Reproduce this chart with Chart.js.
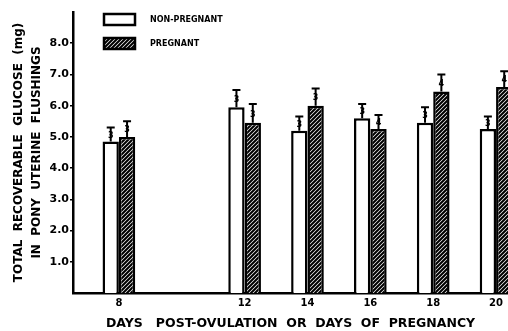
<!DOCTYPE html>
<html>
<head>
<meta charset="utf-8">
<script src="https://cdn.jsdelivr.net/npm/chart.js@4.4.1/dist/chart.umd.min.js"></script>
<style>
    html, body { margin: 0; padding: 0; background: #fff; }
    #wrap { width: 508px; height: 331px; position: relative; }
</style>
</head>
<body>
<div id="wrap"><canvas id="glucoseChart"></canvas></div>
<script>
// Days post-ovulation / days of pregnancy
const days = [8, 12, 14, 16, 18, 20];
const xTickLabels = [8, 12, 14, 16, 18, 20];
const yTickLabels = [1, 2, 3, 4, 5, 6, 7, 8];

// Total recoverable glucose (mg), means and SE
const nonPregnant = [4.85, 5.95, 5.2, 5.6, 5.45, 5.25];
const nonPregnantErr = [0.45, 0.55, 0.45, 0.45, 0.5, 0.4];
const nonPregnantN = [3, 3, 3, 3, 3, 3];

const pregnant = [5.0, 5.45, 6.0, 5.25, 6.45, 6.6];
const pregnantErr = [0.5, 0.6, 0.55, 0.45, 0.55, 0.5];
const pregnantN = [3, 3, 3, 4, 4, 4];

const boldFont = '"DejaVu Sans", sans-serif';

// diagonal hatch fill for the pregnant bars
function makeHatch() {
    const c = document.createElement('canvas');
    c.width = 4;
    c.height = 4;
    const g = c.getContext('2d');
    g.fillStyle = '#fff';
    g.fillRect(0, 0, 4, 4);
    g.strokeStyle = '#000';
    g.lineWidth = 2.1;
    g.beginPath();
    g.moveTo(0, 4); g.lineTo(4, 0);
    g.moveTo(-1, 1); g.lineTo(1, -1);
    g.moveTo(3, 5); g.lineTo(5, 3);
    g.stroke();
    return g.createPattern(c, 'repeat');
}
const hatch = makeHatch();

// error bars with sample size written on the stem
const errorBars = {
    id: 'errorBars',
    afterDatasetsDraw(chart) {
        const ctx = chart.ctx;
        const yScale = chart.scales.y;
        ctx.save();
        chart.data.datasets.forEach((ds, i) => {
            const meta = chart.getDatasetMeta(i);
            meta.data.forEach((bar, j) => {
                const top = yScale.getPixelForValue(ds.data[j].y + ds.errors[j]);
                ctx.strokeStyle = '#000';
                ctx.lineWidth = 2;
                ctx.beginPath();
                ctx.moveTo(bar.x, bar.y);
                ctx.lineTo(bar.x, top);
                ctx.moveTo(bar.x - 4, top);
                ctx.lineTo(bar.x + 4, top);
                ctx.stroke();
                ctx.fillStyle = '#000';
                ctx.font = 'bold 8px ' + boldFont;
                ctx.textAlign = 'center';
                ctx.textBaseline = 'middle';
                ctx.fillText(String(ds.counts[j]), bar.x, (bar.y + top) / 2 + 1);
            });
        });
        ctx.restore();
    }
};

// two-row legend in the upper left of the plot
const boxLegend = {
    id: 'boxLegend',
    afterDraw(chart) {
        const ctx = chart.ctx;
        ctx.save();
        chart.data.datasets.forEach((ds, i) => {
            const y = 14 + i * 24;
            ctx.fillStyle = ds.backgroundColor;
            ctx.strokeStyle = '#000';
            ctx.lineWidth = 2.5;
            ctx.beginPath();
            ctx.rect(104, y, 31, 11);
            ctx.fill();
            ctx.stroke();
            ctx.fillStyle = '#000';
            ctx.font = 'bold 8px ' + boldFont;
            ctx.textAlign = 'left';
            ctx.textBaseline = 'middle';
            ctx.fillText(ds.label, 150, y + 6);
        });
        ctx.restore();
    }
};

const ctx = document.getElementById('glucoseChart').getContext('2d');

const glucoseChart = new Chart(ctx, {
    type: 'bar',
    data: {
        datasets: [{
            label: 'NON-PREGNANT',
            data: days.map((d, i) => ({ x: d, y: nonPregnant[i] })),
            errors: nonPregnantErr,
            counts: nonPregnantN,
            backgroundColor: '#fff',
            borderColor: '#000',
            borderWidth: 2.5
        }, {
            label: 'PREGNANT',
            data: days.map((d, i) => ({ x: d, y: pregnant[i] })),
            errors: pregnantErr,
            counts: pregnantN,
            backgroundColor: hatch,
            borderColor: '#000',
            borderWidth: 2.5
        }]
    },
    options: {
        responsive: true,
        maintainAspectRatio: false,
        animation: false,
        categoryPercentage: 0.52,
        barPercentage: 1.0,
        layout: {
            padding: { top: 12, right: 0, left: 0, bottom: 0 }
        },
        scales: {
            x: {
                type: 'linear',
                min: 6.54,
                max: 20.38,
                offset: false,
                afterBuildTicks: function (scale) {
                    scale.ticks = xTickLabels.map(v => ({ value: v }));
                },
                afterFit: function (scale) {
                    scale.height = 38;
                },
                grid: { display: false, drawTicks: false },
                border: { display: true, color: '#000', width: 2.5 },
                ticks: {
                    padding: 4,
                    color: '#000',
                    font: { family: boldFont, size: 10, weight: 'bold' },
                    callback: function (value) {
                        return String(value);
                    }
                },
                title: {
                    display: true,
                    text: 'DAYS   POST-OVULATION  OR  DAYS  OF  PREGNANCY',
                    color: '#000',
                    font: { family: boldFont, size: 12.5, weight: 'bold' },
                    padding: { top: 0, bottom: 0 }
                }
            },
            y: {
                min: 0,
                max: 9,
                afterBuildTicks: function (scale) {
                    scale.ticks = yTickLabels.map(v => ({ value: v }));
                },
                afterFit: function (scale) {
                    scale.width = 73;
                },
                grid: {
                    drawOnChartArea: false,
                    drawTicks: true,
                    tickLength: 3,
                    color: '#000',
                    lineWidth: 1.5
                },
                border: { display: true, color: '#000', width: 2.5 },
                ticks: {
                    padding: 1,
                    color: '#000',
                    font: { family: boldFont, size: 11, weight: 'bold' },
                    callback: function (value) {
                        return value.toFixed(1);
                    }
                },
                title: {
                    display: true,
                    text: ['TOTAL  RECOVERABLE  GLUCOSE  (mg)', 'IN  PONY  UTERINE  FLUSHINGS'],
                    color: '#000',
                    font: { family: boldFont, size: 12, weight: 'bold', lineHeight: 1.5 },
                    padding: { top: 10, bottom: 0 }
                }
            }
        },
        plugins: {
            legend: { display: false },
            tooltip: { enabled: false }
        }
    },
    plugins: [errorBars, boxLegend]
});
</script>
</body>
</html>
